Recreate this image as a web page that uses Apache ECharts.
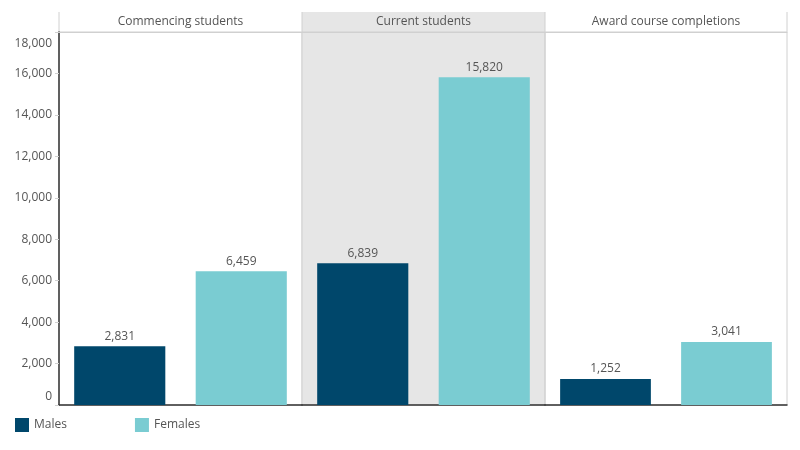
<!DOCTYPE html>
<html>
<head>
<meta charset="utf-8">
<script src="https://cdn.jsdelivr.net/npm/echarts@6/dist/echarts.min.js"></script>
<style>
  html, body { margin: 0; padding: 0; background: #fff; }
  #chart { width: 800px; height: 450px; }
</style>
</head>
<body>
<div id="chart"></div>
<script>
const panels = ['Commencing students', 'Current students', 'Award course completions'];
const genders = ['Males', 'Females'];
const males = [2831, 6839, 1252];
const females = [6459, 15820, 3041];
const yMax = 18000;

const NAVY = '#00476b';
const TEAL = '#7accd2';
const FONT = 'Open Sans';
const TXT = '#555';

// panel edges in px
const edges = [59, 302, 545, 787];
const plotTop = 32, plotBottom = 405, headTop = 12;

const fmt = v => v.toLocaleString('en-US');

const buildOption = () => {
  const grid = [], xAxis = [], yAxis = [], series = [];
  panels.forEach((p, i) => {
    grid.push({
      left: edges[i], width: edges[i + 1] - edges[i],
      top: plotTop, bottom: 450 - plotBottom,
      show: true, borderColor: '#d0d0d0', borderWidth: 1,
      backgroundColor: i === 1 ? '#e6e6e6' : 'transparent'
    });
    xAxis.push({
      type: 'category', gridIndex: i, data: genders,
      axisLine: { show: true, lineStyle: { color: '#333', width: 1.5 } },
      axisTick: { show: false }, axisLabel: { show: false }
    });
    // header axis
    xAxis.push({
      type: 'category', gridIndex: i, position: 'top', data: [p],
      axisLine: { show: true, lineStyle: { color: '#d0d0d0' } },
      axisTick: { show: false },
      axisLabel: { color: TXT, fontFamily: FONT, fontSize: 12, margin: 4 }
    });
    yAxis.push({
      type: 'value', gridIndex: i, min: 0, max: yMax, interval: 2000,
      show: i === 0,
      axisLine: { show: i === 0, lineStyle: { color: '#333', width: 1.5 } },
      axisTick: { show: i === 0, length: 4, lineStyle: { color: '#d0d0d0' } },
      splitLine: { show: false },
      axisLabel: {
        show: i === 0, color: TXT, fontFamily: FONT, fontSize: 12, margin: 7,
        formatter: v => v === yMax ? '{t|' + fmt(v) + '}' : v === 0 ? '{b|' + fmt(v) + '}' : fmt(v),
        rich: {
          t: { color: TXT, fontFamily: FONT, fontSize: 12, padding: [24, 0, 0, 0] },
          b: { color: TXT, fontFamily: FONT, fontSize: 12, padding: [0, 0, 16, 0] }
        }
      }
    });
    const label = {
      show: true, position: 'top', distance: 4, color: TXT,
      fontFamily: FONT, fontSize: 12,
      formatter: d => fmt(d.value)
    };
    series.push({
      name: 'Males', type: 'bar', xAxisIndex: i * 2, yAxisIndex: i,
      data: [males[i], '-'], barWidth: '75%', barGap: '-100%',
      itemStyle: { color: NAVY }, label
    });
    series.push({
      name: 'Females', type: 'bar', xAxisIndex: i * 2, yAxisIndex: i,
      data: ['-', females[i]], barWidth: '75%', barGap: '-100%',
      itemStyle: { color: TEAL }, label
    });
  });

  const graphic = [
    { type: 'rect', z: -1, shape: { x: edges[1], y: headTop, width: edges[2] - edges[1], height: plotTop - headTop },
      style: { fill: '#e6e6e6' } }
  ];
  edges.forEach(x => {
    graphic.push({ type: 'line', shape: { x1: x, y1: headTop, x2: x, y2: plotTop }, style: { stroke: '#d0d0d0', lineWidth: 1 } });
  });

  return {
    animation: false,
    textStyle: { fontFamily: FONT },
    legend: {
      data: genders, left: 10, top: 413, itemWidth: 14, itemHeight: 14, itemGap: 68,
      icon: 'rect', textStyle: { color: TXT, fontSize: 12, fontFamily: FONT }
    },
    grid, xAxis, yAxis, series, graphic
  };
};

window.addEventListener('load', () => {
  const chart = echarts.init(document.getElementById('chart'));
  chart.setOption(buildOption());
});
</script>
</body>
</html>
